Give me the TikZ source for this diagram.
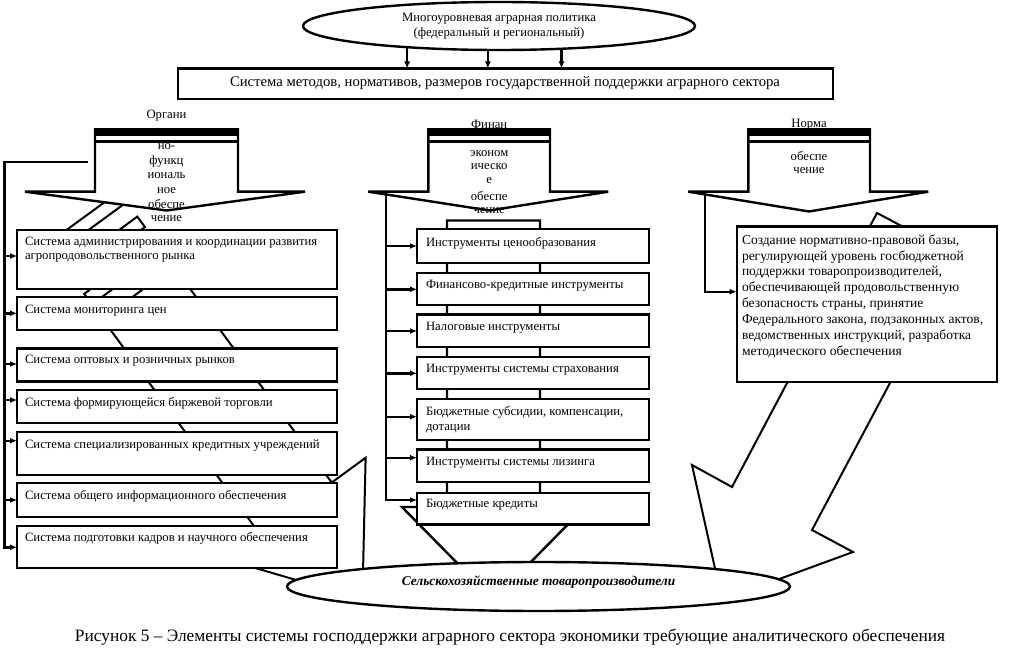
\documentclass[tikz,border=0pt]{standalone}
\usepackage{fontspec}
\setmainfont{Liberation Serif}
\usetikzlibrary{arrows.meta,shapes.geometric,calc}
\begin{document}
\begin{tikzpicture}[x=1pt,y=-1pt,
  every node/.style={inner sep=0pt, outer sep=0pt},
  box/.style={draw, line width=2.4pt, fill=white, anchor=north west},
  btxt/.style={font=\fontsize{12.7}{14}\selectfont, anchor=north west, align=left},
  atxt/.style={font=\fontsize{12.7}{14}\selectfont, anchor=center},
  blockarrow/.style={draw, line width=2.4pt, fill=white, line join=miter},
  diag/.style={draw, line width=2pt, fill=white, line join=miter},
  conn/.style={line width=2.4pt},
  arr/.style={line width=2.4pt, -{Latex[length=7pt,width=6pt]}},
]
\useasboundingbox[fill=white] (0,0) rectangle (1021,666);

% ---------- background arrows (behind boxes) ----------
\begin{scope}[x={(0.59pt,-0.807pt)}, y={(0.807pt,0.59pt)}]
  \foreach \a in {225,256,287}
    \draw[diag] (\a,-105.5) -- (\a+13,-105.5) -- (\a+13,-17) -- (\a,-17) -- cycle;
  \draw[diag] (318,-105.5) -- (585.5,-105.5) -- (585.5,-147.5) -- (698,-61.25)
              -- (585.5,25) -- (585.5,-17) -- (318,-17) -- cycle;
\end{scope}
\draw[diag] (877,213) -- (957.5,255.6) -- (812,530) -- (853,552) -- (722,600)
            -- (692,465) -- (732,487) -- cycle;
\draw[diag, line width=2.4pt] (447,220.5) -- (540,220.5) -- (540,507) -- (585,507)
            -- (493.5,600) -- (402,507) -- (447,507) -- cycle;

% ---------- block arrows ----------
\draw[blockarrow] (95,129.5) -- (238,129.5) -- (238,191.7) -- (305,191.7) -- (166.5,210.5)
      -- (25,191.7) -- (95,191.7) -- cycle;
\fill (93.8,128.3) rectangle (239.2,136.5);
\draw[line width=3.5pt] (93.8,141.3) -- (239.2,141.3);

\draw[blockarrow] (428.3,129.5) -- (550,129.5) -- (550,191.7) -- (608.3,191.7) -- (489.5,210.5)
      -- (368.3,191.7) -- (428.3,191.7) -- cycle;
\fill (427.1,128.3) rectangle (551.2,136.5);
\draw[line width=3.5pt] (427.1,141.3) -- (551.2,141.3);

\draw[blockarrow] (748.3,129.5) -- (870,129.5) -- (870,191.7) -- (928.3,191.7) -- (809,211.5)
      -- (688.3,191.7) -- (748.3,191.7) -- cycle;
\fill (747.1,128.3) rectangle (871.2,136.5);
\draw[line width=3.5pt] (747.1,141.3) -- (871.2,141.3);

\node[atxt] (la1) at (166.5,116) {Органи};
\node[atxt] (la2) at (166.5,147) {но-};
\node[atxt] (la3) at (166.5,161.5) {функц};
\node[atxt] (la4) at (166.5,176) {иональ};
\node[atxt] (la5) at (166.5,190.5) {ное};
\node[atxt] (la6) at (166.5,204.5) {обеспе};
\node[atxt] (la7) at (166.5,218.5) {чение};

\node[atxt] (ma1) at (489.2,124.5) {Финан};
\node[atxt] (ma2) at (489.2,153.5) {эконом};
\node[atxt] (ma3) at (489.2,167) {ическо};
\node[atxt] (ma4) at (489.2,180.5) {е};
\node[atxt] (ma5) at (489.2,196) {обеспе};
\node[atxt] (ma6) at (489.2,211) {чение};

\node[atxt] (ra1) at (809,124.5) {Норма};
\node[atxt] (ra2) at (809,156.5) {обеспе};
\node[atxt] (ra3) at (809,171) {чение};

% ---------- left column ----------
\node[box, minimum width=320pt, minimum height=59pt] (L1) at (17,230) {};
\node[box, minimum width=320pt, minimum height=33pt] (L2) at (17,297) {};
\node[box, minimum width=320pt, minimum height=33pt] (L3) at (17,348.5) {};
\node[box, minimum width=320pt, minimum height=33pt] (L4) at (17,390) {};
\node[box, minimum width=320pt, minimum height=43pt] (L5) at (17,432) {};
\node[box, minimum width=320pt, minimum height=34pt] (L6) at (17,483) {};
\node[box, minimum width=320pt, minimum height=42pt] (L7) at (17,526) {};

\node[btxt] (lt1) at (25,235.7) {\strut Система администрирования и координации развития\\агропродовольственного рынка};
\node[btxt] (lt2) at (25,303.7) {\strut Система мониторинга цен};
\node[btxt] (lt3) at (25,353.7) {\strut Система оптовых и розничных рынков};
\node[btxt] (lt4) at (25,396.2) {\strut Система формирующейся биржевой торговли};
\node[btxt] (lt5) at (25,438.7) {\strut Система специализированных кредитных учреждений};
\node[btxt] (lt6) at (25,489.7) {\strut Система общего информационного обеспечения};
\node[btxt] (lt7) at (25,531.7) {\strut Система подготовки кадров и научного обеспечения};

% ---------- middle column ----------
\node[box, minimum width=232pt, minimum height=33.4pt] (M1) at (417,229.3) {};
\node[box, minimum width=232pt, minimum height=32.3pt] (M2) at (417,272.7) {};
\node[box, minimum width=232pt, minimum height=32.4pt] (M3) at (417,314.3) {};
\node[box, minimum width=232pt, minimum height=32.3pt] (M4) at (417,356.7) {};
\node[box, minimum width=232pt, minimum height=41pt] (M5) at (417,399) {};
\node[box, minimum width=232pt, minimum height=32.4pt] (M6) at (417,449.3) {};
\node[box, minimum width=232pt, minimum height=31.6pt] (M7) at (417,492.7) {};

\node[btxt] (mt1) at (426,236.4) {\strut Инструменты ценообразования};
\node[btxt] (mt2) at (426,278.7) {\strut Финансово-кредитные инструменты};
\node[btxt] (mt3) at (426,321) {\strut Налоговые инструменты};
\node[btxt] (mt4) at (426,363) {\strut Инструменты системы страхования};
\node[btxt, font=\fontsize{12.7}{15}\selectfont] (mt5) at (426,404.5) {\strut Бюджетные субсидии, компенсации,\\дотации};
\node[btxt] (mt6) at (426,456) {\strut Инструменты системы лизинга};
\node[btxt] (mt7) at (426,498) {\strut Бюджетные кредиты};

% ---------- right column ----------
\node[box, minimum width=260pt, minimum height=155pt] (R) at (736.7,226.7) {};
\node[btxt, font=\fontsize{13.5}{15.9}\selectfont] (rt) at (742,233) {\strut Создание нормативно-правовой базы,\\
регулирующей уровень госбюджетной\\
поддержки товаропроизводителей,\\
обеспечивающей продовольственную\\
безопасность страны, принятие\\
Федерального закона, подзаконных актов,\\
ведомственных инструкций, разработка\\
методического обеспечения};

% ---------- buses ----------
\coordinate (lb0) at (88,162);
\coordinate (lbT) at (4.5,162);
\coordinate (lb7) at (4.5,547.3);
\draw[arr] (lb0) -- (lbT) -- (lb7) -- (lb7 -| L7.west);
\foreach \i/\y in {1/256,2/313.3,3/364,4/400,5/440.7,6/500} {
  \coordinate (lb\i) at (4.5,\y);
  \draw[arr] (lb\i) -- (lb\i -| L\i.west);
}

\coordinate (mb0) at (386,192.5);
\coordinate (mb7) at (386,500);
\draw[arr] (mb0) -- (mb7) -- (mb7 -| M7.west);
\foreach \i/\y in {1/246,2/289.3,3/331,4/373.3,5/416.7,6/457.7} {
  \coordinate (mb\i) at (386,\y);
  \draw[arr] (mb\i) -- (mb\i -| M\i.west);
}

\coordinate (rb0) at (705,192.5);
\coordinate (rb1) at (705,291.7);
\draw[arr] (rb0) -- (rb1) -- (rb1 -| R.west);

% ---------- bottom ellipse ----------
\node[draw, ellipse, line width=2.4pt, fill=white, minimum width=503pt, minimum height=49pt] (B) at (538.5,586.5) {};
\node[font=\fontsize{13.4}{15}\selectfont\bfseries\itshape] (bt) at (538.5,582) {Сельскохозяйственные товаропроизводители};

% ---------- top ----------
\node[draw, ellipse, line width=2.4pt, fill=white, minimum width=392pt, minimum height=48pt,
      align=center, font=\fontsize{12.7}{15}\selectfont] (E) at (499,26) {Многоуровневая аграрная политика\\(федеральный и региональный)};
\node[box, minimum width=655pt, minimum height=30.5pt] (T) at (178,68.5) {};
\node[font=\fontsize{14.7}{16}\selectfont] (tt) at (505,83.5) {Система методов, нормативов, размеров государственной поддержки аграрного сектора};
\draw[arr] (E.193.2) -- (E.193.2 |- T.north);
\draw[arr] (E.245.9) -- (E.245.9 |- T.north);
\draw[arr] (E.340.1) -- (E.340.1 |- T.north);

% ---------- caption ----------
\node[font=\fontsize{17.35}{20}\selectfont] (cap) at (510,637) {Рисунок 5 – Элементы системы господдержки аграрного сектора экономики требующие аналитического обеспечения};
\end{tikzpicture}
\end{document}
